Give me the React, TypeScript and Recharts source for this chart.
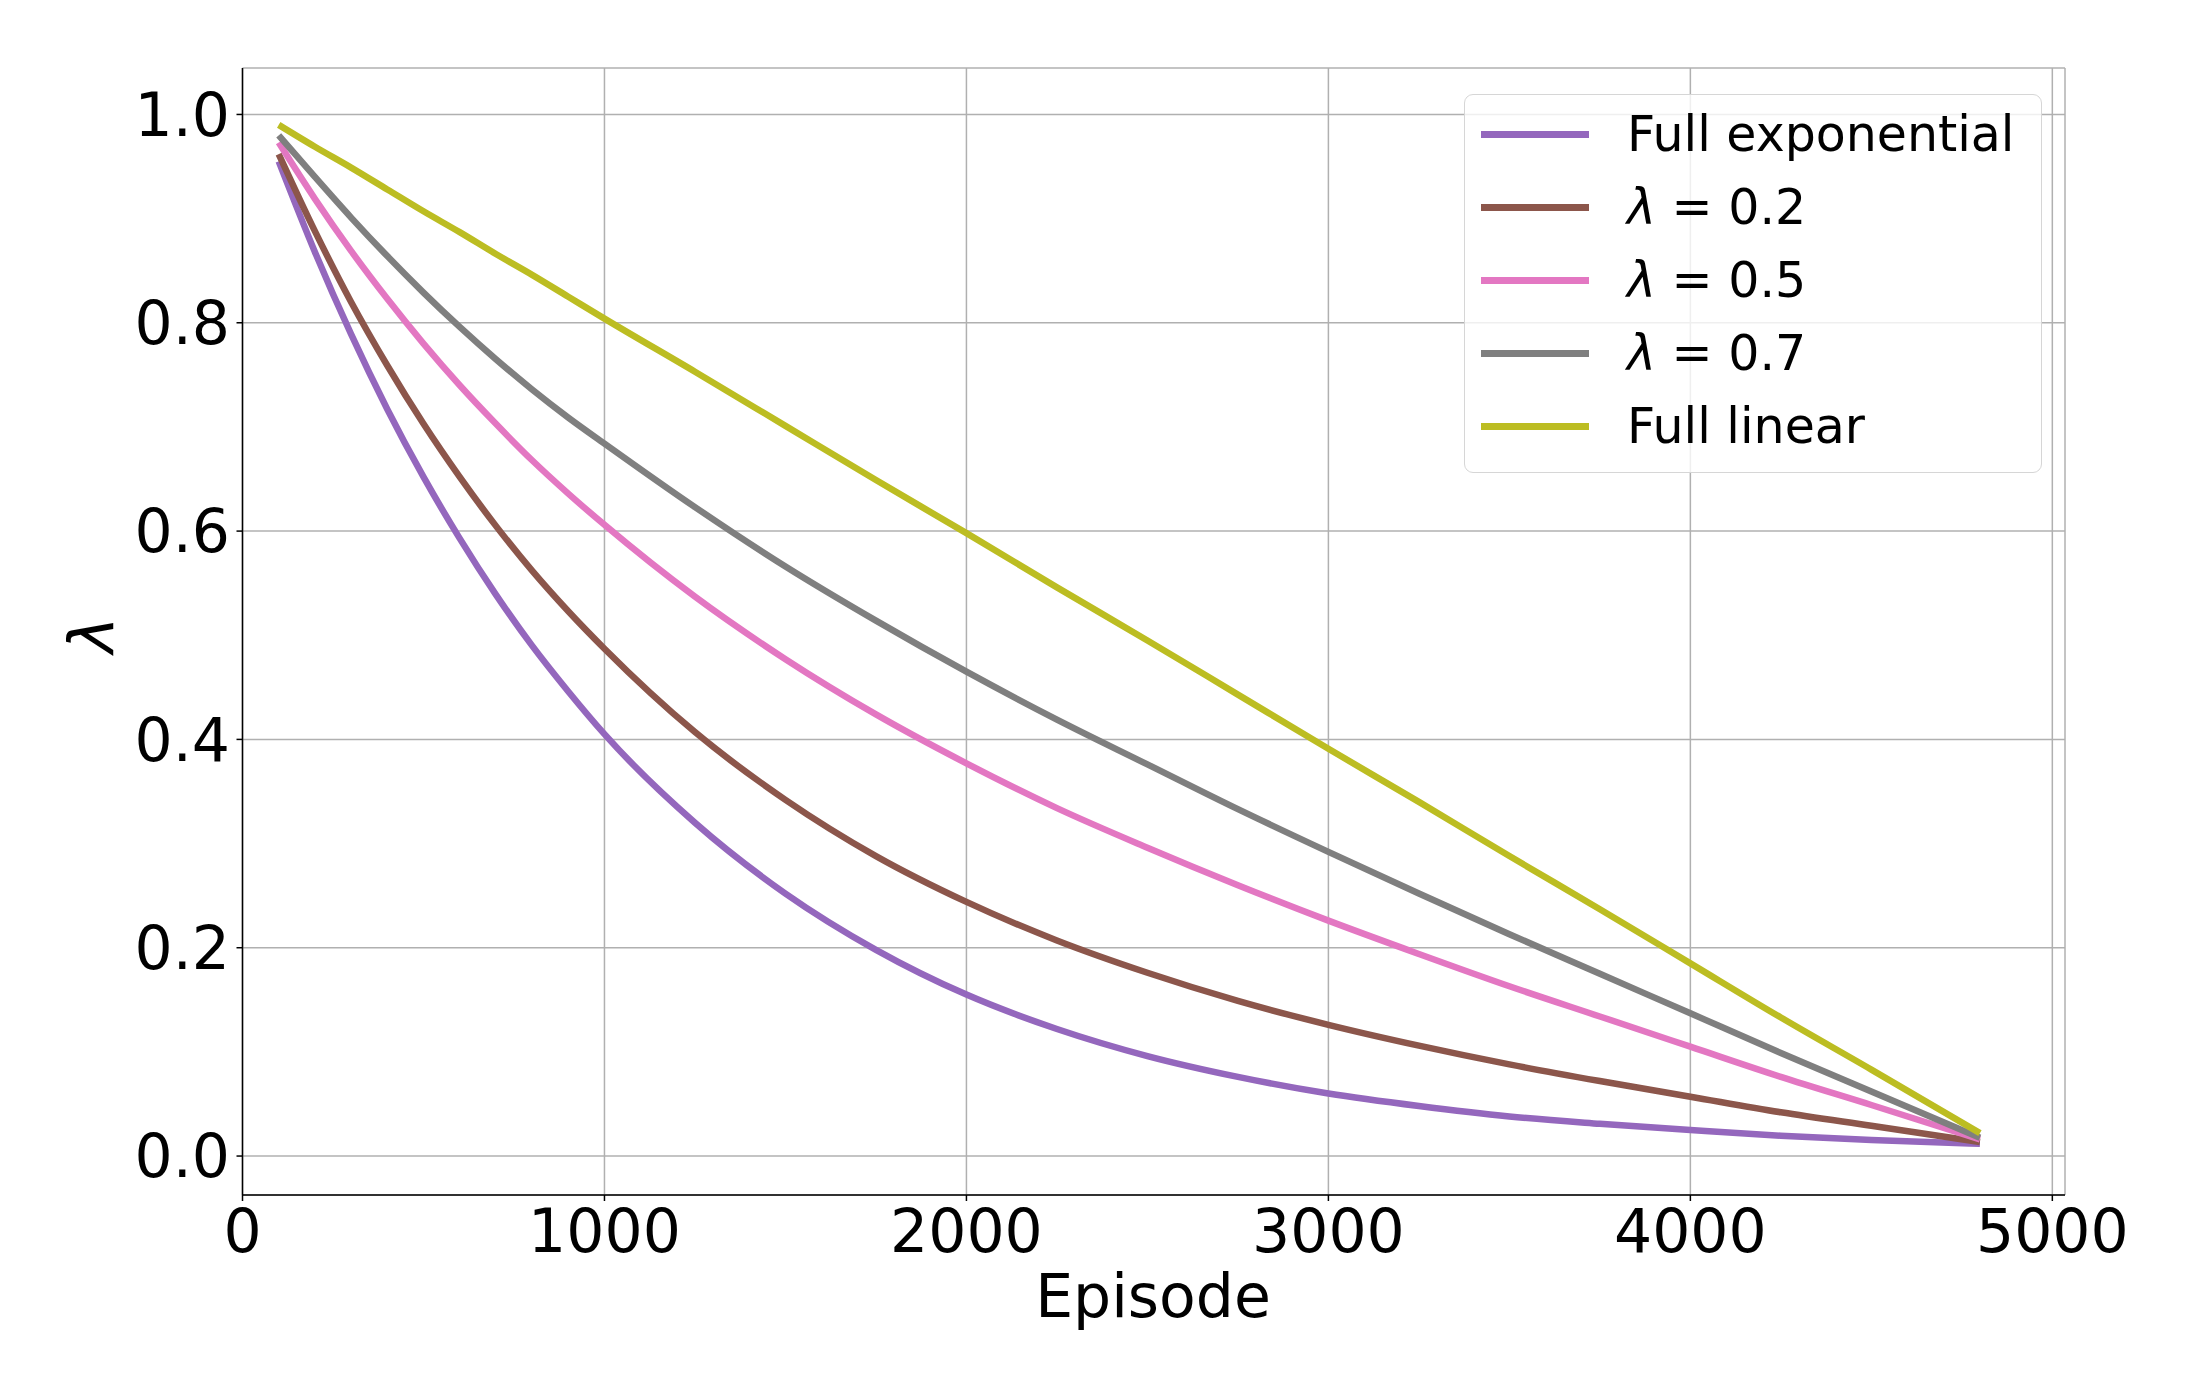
import { CartesianGrid, Legend, Line, LineChart, XAxis, YAxis } from 'recharts';

const FONT = '"DejaVu Sans", sans-serif';

// values
const episodes = [
  100, 200, 300, 400, 500, 600, 700, 800, 900, 1000, 1250, 1500, 1750, 2000, 2250, 2500, 2750,
  3000, 3250, 3500, 3750, 4000, 4250, 4500, 4800,
];
const fullExponential = [
  0.955, 0.868, 0.789, 0.717, 0.652, 0.593, 0.539, 0.49, 0.446, 0.405, 0.32, 0.252, 0.198, 0.155,
  0.122, 0.096, 0.076, 0.06, 0.048, 0.038, 0.031, 0.025, 0.0195, 0.0155, 0.0117,
];
const lambda02 = [
  0.962, 0.888, 0.82, 0.759, 0.703, 0.652, 0.605, 0.562, 0.523, 0.487, 0.407, 0.342, 0.288, 0.244,
  0.207, 0.176, 0.149, 0.126, 0.106, 0.088, 0.072, 0.057, 0.042, 0.029, 0.0135,
];
const lambda05 = [
  0.973, 0.919, 0.869, 0.823, 0.78, 0.74, 0.703, 0.668, 0.636, 0.606, 0.537, 0.477, 0.424, 0.377,
  0.334, 0.296, 0.26, 0.226, 0.194, 0.163, 0.134, 0.105, 0.076, 0.049, 0.016,
];
const lambda07 = [
  0.98, 0.94, 0.901, 0.864, 0.829, 0.796, 0.765, 0.736, 0.709, 0.684, 0.623, 0.566, 0.514, 0.465,
  0.419, 0.376, 0.333, 0.292, 0.252, 0.213, 0.175, 0.137, 0.099, 0.062, 0.0175,
];
const fullLinear = [
  0.99, 0.969, 0.949, 0.928, 0.907, 0.887, 0.866, 0.846, 0.825, 0.804, 0.753, 0.701, 0.649, 0.598,
  0.546, 0.495, 0.443, 0.391, 0.34, 0.288, 0.237, 0.185, 0.133, 0.083, 0.022,
];

const xTicks = [0, 1000, 2000, 3000, 4000, 5000];
const yTicks = [0, 0.2, 0.4, 0.6, 0.8, 1.0];
const xDomain = [0, 5035];
const yDomain = [-0.0374, 1.0446];

const series = [
  { key: 'exp', name: 'Full exponential', color: '#9467bd', values: fullExponential },
  { key: 'l02', name: 'λ = 0.2', color: '#8c564b', values: lambda02 },
  { key: 'l05', name: 'λ = 0.5', color: '#e377c2', values: lambda05 },
  { key: 'l07', name: 'λ = 0.7', color: '#7f7f7f', values: lambda07 },
  { key: 'lin', name: 'Full linear', color: '#bcbd22', values: fullLinear },
];
const seriesOrder = series.map((s) => s.name);

const chartData = episodes.map((episode, i) => {
  const row: Record<string, number> = { episode };
  series.forEach((s) => {
    row[s.key] = s.values[i];
  });
  return row;
});

function SeriesName({ name }: { name: string }) {
  if (name.startsWith('λ')) {
    return (
      <>
        <span style={{ fontStyle: 'italic' }}>λ</span>
        {name.slice(1)}
      </>
    );
  }
  return <>{name}</>;
}

function LegendBox({ payload }: any) {
  // keep plotting order, not the alphabetical order recharts uses
  const items = [...(payload || [])].sort(
    (a: any, b: any) => seriesOrder.indexOf(a.value) - seriesOrder.indexOf(b.value),
  );
  return (
    <div
      style={{
        width: 578,
        height: 379,
        boxSizing: 'border-box',
        border: '1.5px solid #d6d6d6',
        borderRadius: 9,
        background: 'rgba(255,255,255,0.8)',
        paddingTop: 3,
        fontFamily: FONT,
        fontSize: 49,
        color: '#000',
      }}
    >
      {items.map((entry: any) => (
        <div key={entry.value} style={{ display: 'flex', alignItems: 'center', height: 73 }}>
          <span
            style={{ marginLeft: 16, width: 108, height: 6.5, background: entry.color, flex: 'none' }}
          />
          <span style={{ marginLeft: 38, whiteSpace: 'nowrap' }}>
            <SeriesName name={entry.value} />
          </span>
        </div>
      ))}
    </div>
  );
}

const tickStyle = { fontSize: 60, fill: '#000', fontFamily: FONT };
const spine = { stroke: '#000', strokeWidth: 1.5 };

export default function App() {
  return (
    <div>
      <style>{'body { margin: 0; }'}</style>
      <LineChart
        width={2200}
        height={1400}
        data={chartData}
        margin={{ top: 68, right: 135, bottom: 0, left: 0 }}
      >
        <CartesianGrid stroke="#b0b0b0" strokeWidth={1.5} />
        <XAxis
          dataKey="episode"
          type="number"
          domain={xDomain}
          allowDataOverflow
          ticks={xTicks}
          height={205}
          tick={tickStyle}
          tickSize={6}
          tickMargin={8}
          axisLine={spine}
          tickLine={spine}
          label={{
            content: () => (
              <text x={1153} y={1317} textAnchor="middle" fontSize={60} fontFamily={FONT} fill="#000">
                Episode
              </text>
            ),
          }}
        />
        <XAxis
          xAxisId="top"
          orientation="top"
          type="number"
          domain={xDomain}
          allowDataOverflow
          height={0}
          tick={false}
          tickLine={false}
          axisLine={spine}
        />
        <YAxis
          type="number"
          domain={yDomain}
          allowDataOverflow
          ticks={yTicks}
          width={242.5}
          tick={tickStyle}
          tickFormatter={(v: number) => v.toFixed(1)}
          tickSize={6}
          tickMargin={6.5}
          axisLine={spine}
          tickLine={spine}
          label={{
            content: () => (
              <text
                x={91}
                y={635}
                transform="rotate(-90, 91, 635)"
                textAnchor="middle"
                dominantBaseline="central"
                fontSize={62}
                fontStyle="italic"
                fontFamily={FONT}
                fill="#000"
              >
                λ
              </text>
            ),
          }}
        />
        <YAxis
          yAxisId="right"
          orientation="right"
          type="number"
          domain={yDomain}
          allowDataOverflow
          width={0}
          tick={false}
          tickLine={false}
          axisLine={spine}
        />
        {series.map((s) => (
          <Line
            key={s.key}
            type="monotone"
            dataKey={s.key}
            name={s.name}
            stroke={s.color}
            strokeWidth={6.5}
            dot={false}
            activeDot={false}
            isAnimationActive={false}
          />
        ))}
        <Legend
          layout="vertical"
          align="center"
          verticalAlign="middle"
          content={<LegendBox />}
          wrapperStyle={{ left: 1464, top: 94, width: 'auto', height: 'auto' }}
        />
      </LineChart>
    </div>
  );
}
